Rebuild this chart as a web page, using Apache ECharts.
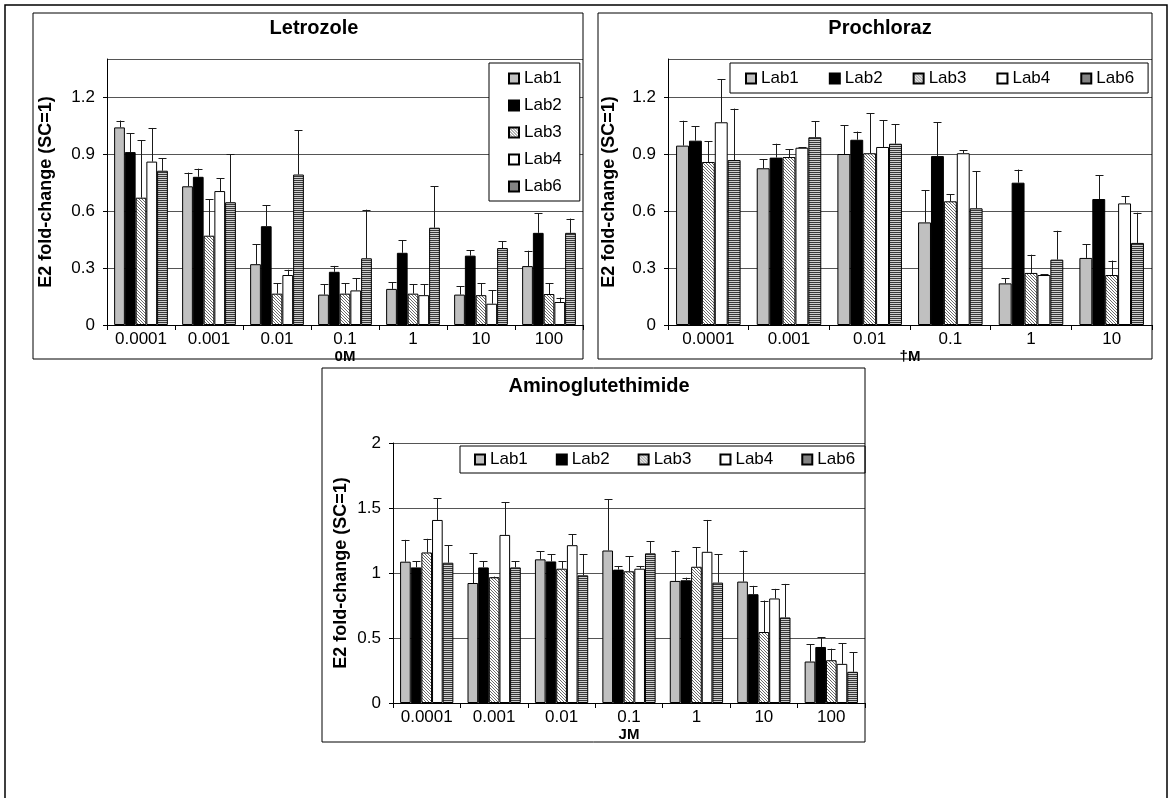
<!DOCTYPE html>
<html><head><meta charset="utf-8">
<script src="https://cdn.jsdelivr.net/npm/echarts@6/dist/echarts.min.js"></script>
<style>html,body{margin:0;padding:0;background:#fff}#c{width:1172px;height:798px}</style>
</head><body><div id="c"></div>
<script>
// ---------- DATA ----------
const labs = ['Lab1', 'Lab2', 'Lab3', 'Lab4', 'Lab6'];
const letCats = ['0.0001', '0.001', '0.01', '0.1', '1', '10', '100'];
const proCats = ['0.0001', '0.001', '0.01', '0.1', '1', '10'];
const amiCats = ['0.0001', '0.001', '0.01', '0.1', '1', '10', '100'];

// Letrozole means and upper error-bar ends
const letLab1 = [1.04, 0.73, 0.32, 0.16, 0.19, 0.16, 0.31];
const letLab2 = [0.91, 0.78, 0.52, 0.28, 0.38, 0.365, 0.485];
const letLab3 = [0.67, 0.47, 0.165, 0.165, 0.165, 0.157, 0.163];
const letLab4 = [0.86, 0.705, 0.263, 0.182, 0.157, 0.112, 0.121];
const letLab6 = [0.812, 0.646, 0.792, 0.351, 0.512, 0.405, 0.485];
const letLab1Hi = [1.076, 0.802, 0.425, 0.214, 0.225, 0.205, 0.391];
const letLab2Hi = [1.009, 0.823, 0.63, 0.311, 0.447, 0.393, 0.589];
const letLab3Hi = [0.972, 0.661, 0.219, 0.219, 0.214, 0.219, 0.219];
const letLab4Hi = [1.037, 0.772, 0.291, 0.246, 0.214, 0.182, 0.144];
const letLab6Hi = [0.877, 0.898, 1.025, 0.607, 0.73, 0.442, 0.56];

// Prochloraz
const proLab1 = [0.944, 0.825, 0.9, 0.54, 0.219, 0.353];
const proLab2 = [0.97, 0.881, 0.975, 0.889, 0.749, 0.663];
const proLab3 = [0.858, 0.884, 0.904, 0.651, 0.274, 0.263];
const proLab4 = [1.067, 0.933, 0.937, 0.904, 0.263, 0.64];
const proLab6 = [0.868, 0.988, 0.954, 0.614, 0.344, 0.432];
const proLab1Hi = [1.075, 0.872, 1.051, 0.709, 0.247, 0.425];
const proLab2Hi = [1.046, 0.954, 1.018, 1.067, 0.818, 0.788];
const proLab3Hi = [0.968, 0.926, 1.114, 0.688, 0.37, 0.339];
const proLab4Hi = [1.293, 0.935, 1.077, 0.919, 0.268, 0.679];
const proLab6Hi = [1.139, 1.072, 1.056, 0.809, 0.496, 0.591];

// Aminoglutethimide
const amiLab1 = [1.087, 0.923, 1.105, 1.173, 0.939, 0.934, 0.319];
const amiLab2 = [1.043, 1.043, 1.089, 1.026, 0.944, 0.837, 0.431];
const amiLab3 = [1.158, 0.967, 1.033, 1.013, 1.048, 0.546, 0.329];
const amiLab4 = [1.408, 1.293, 1.214, 1.033, 1.163, 0.804, 0.301];
const amiLab6 = [1.079, 1.043, 0.982, 1.151, 0.926, 0.658, 0.24];
const amiLab1Hi = [1.255, 1.151, 1.166, 1.569, 1.173, 1.173, 0.452];
const amiLab2Hi = [1.092, 1.092, 1.143, 1.054, 0.964, 0.901, 0.505];
const amiLab3Hi = [1.263, 0.972, 1.092, 1.13, 1.199, 0.788, 0.418];
const amiLab4Hi = [1.574, 1.546, 1.298, 1.054, 1.408, 0.878, 0.459];
const amiLab6Hi = [1.214, 1.092, 1.143, 1.245, 1.143, 0.916, 0.39];

// ---------- PATTERNS ----------
function hatch() {
  const c = document.createElement('canvas'); c.width = 3; c.height = 3;
  const g = c.getContext('2d'); g.fillStyle = '#ffffff'; g.fillRect(0, 0, 3, 3);
  g.fillStyle = '#6a6a6a'; for (let i = 0; i < 3; i++) g.fillRect(i, i, 1, 1);
  return c;
}
function stripes() {
  const c = document.createElement('canvas'); c.width = 4; c.height = 2;
  const g = c.getContext('2d'); g.fillStyle = '#cfcfcf'; g.fillRect(0, 0, 4, 2);
  g.fillStyle = '#383838'; g.fillRect(0, 0, 4, 1);
  return c;
}
const fills = ['#c0c0c0', '#000000', {image: hatch(), repeat: 'repeat'}, '#ffffff', {image: stripes(), repeat: 'repeat'}];

const FONT = 'Liberation Sans, Arial, sans-serif';
const panels = [
  {title: 'Letrozole', cats: letCats, means: [letLab1, letLab2, letLab3, letLab4, letLab6],
   his: [letLab1Hi, letLab2Hi, letLab3Hi, letLab4Hi, letLab6Hi], max: 1.4, interval: 0.3, unit: '0M',
   grid: {left: 107, top: 59, width: 476, height: 266}, gap: 21, nameGap: 52,
   legend: {orient: 'vertical', left: 489, top: 63, padding: [7, 18, 6, 19], itemGap: 10},
   titlePos: [309, 13]},
  {title: 'Prochloraz', cats: proCats, means: [proLab1, proLab2, proLab3, proLab4, proLab6],
   his: [proLab1Hi, proLab2Hi, proLab3Hi, proLab4Hi, proLab6Hi], max: 1.4, interval: 0.3, unit: '\u2020M',
   grid: {left: 668, top: 59, width: 484, height: 266}, gap: 20, nameGap: 50,
   legend: {orient: 'horizontal', left: 730, top: 63, padding: [7, 14, 6, 15], itemGap: 30},
   titlePos: [875, 13]},
  {title: 'Aminoglutethimide', cats: amiCats, means: [amiLab1, amiLab2, amiLab3, amiLab4, amiLab6],
   his: [amiLab1Hi, amiLab2Hi, amiLab3Hi, amiLab4Hi, amiLab6Hi], max: 2, interval: 0.5, unit: 'JM',
   grid: {left: 393, top: 443, width: 472, height: 260}, gap: 21, nameGap: 43,
   legend: {orient: 'horizontal', left: 460, top: 446, padding: [5, 10, 5, 14], itemGap: 28},
   titlePos: [594, 371]}
];

const option = {
  animation: false,
  textStyle: {fontFamily: FONT},
  title: [], legend: [], grid: [], xAxis: [], yAxis: [], series: [],
  graphic: [
    {type: 'rect', shape: {x: 5, y: 5, width: 1162, height: 800}, style: {fill: 'none', stroke: '#000', lineWidth: 1.5}, z: 100},
    {type: 'rect', shape: {x: 33, y: 13, width: 550, height: 346}, style: {fill: 'none', stroke: '#000', lineWidth: 1}, z: 100},
    {type: 'rect', shape: {x: 598, y: 13, width: 554, height: 346}, style: {fill: 'none', stroke: '#000', lineWidth: 1}, z: 100},
    {type: 'rect', shape: {x: 322, y: 368, width: 543, height: 374}, style: {fill: 'none', stroke: '#000', lineWidth: 1}, z: 100}
  ]
};

panels.forEach((p, gi) => {
  option.title.push({text: p.title, left: p.titlePos[0], top: p.titlePos[1], textAlign: 'center',
    textStyle: {fontFamily: FONT, fontSize: 20, fontWeight: 'bold', color: '#000'}});
  option.legend.push(Object.assign({
    data: labs, icon: 'rect', itemWidth: 10, itemHeight: 10, selectedMode: false,
    borderColor: '#000', borderWidth: 1, backgroundColor: '#fff',
    textStyle: {fontFamily: FONT, fontSize: 17, color: '#000'}, z: 10
  }, p.legend));
  option.grid.push(p.grid);
  option.xAxis.push({
    type: 'category', gridIndex: gi, data: p.cats,
    axisLine: {lineStyle: {color: '#000', width: 1}},
    axisTick: {show: true, length: 5, lineStyle: {color: '#000'}},
    axisLabel: {color: '#000', fontSize: 17, fontFamily: FONT, margin: 6, interval: 0},
    name: p.unit, nameLocation: 'middle', nameGap: 14,
    nameTextStyle: {color: '#000', fontSize: 15, fontWeight: 'bold', fontFamily: FONT}
  });
  option.yAxis.push({
    type: 'value', gridIndex: gi, min: 0, max: p.max, interval: p.interval,
    axisLine: {show: true, lineStyle: {color: '#000', width: 1}},
    axisTick: {show: true, length: 4, lineStyle: {color: '#000'}},
    axisLabel: {color: '#000', fontSize: 17, fontFamily: FONT, margin: 12, showMaxLabel: p.max === 2},
    splitLine: {show: true, lineStyle: {color: '#555', width: 1}},
    name: 'E2 fold-change (SC=1)', nameLocation: 'middle', nameGap: p.nameGap, nameRotate: 90,
    nameTextStyle: {color: '#000', fontSize: 18, fontWeight: 'bold', fontFamily: FONT}
  });
  labs.forEach((lab, li) => {
    option.series.push({
      type: 'bar', name: lab, xAxisIndex: gi, yAxisIndex: gi, data: p.means[li],
      barGap: '0%', barCategoryGap: p.gap + '%',
      itemStyle: {color: fills[li], borderColor: '#000', borderWidth: 1},
      z: 2
    });
  });
  labs.forEach((lab, li) => {
    const gapFrac = p.gap / 100;
    option.series.push({
      type: 'custom', name: 'err-' + lab, xAxisIndex: gi, yAxisIndex: gi, z: 5,
      data: p.means[li].map((m, ci) => [ci, m, p.his[li][ci]]),
      renderItem: function (params, api) {
        const ci = api.value(0);
        const band = api.size([1, 0])[0];
        const groupW = band * (1 - gapFrac);
        const bw = groupW / labs.length;
        const base = api.coord([ci, api.value(1)]);
        const top = api.coord([ci, api.value(2)]);
        const x = Math.round(base[0] - groupW / 2 + bw * (li + 0.5)) + 0.5;
        const st = {stroke: '#1a1a1a', lineWidth: 1};
        return {type: 'group', children: [
          {type: 'line', shape: {x1: x, y1: base[1], x2: x, y2: top[1]}, style: st},
          {type: 'line', shape: {x1: x - 4, y1: Math.round(top[1]) + 0.5, x2: x + 4, y2: Math.round(top[1]) + 0.5}, style: st}
        ]};
      }
    });
  });
});

const chart = echarts.init(document.getElementById('c'), null, {renderer: 'canvas'});
chart.setOption(option);
</script></body></html>
